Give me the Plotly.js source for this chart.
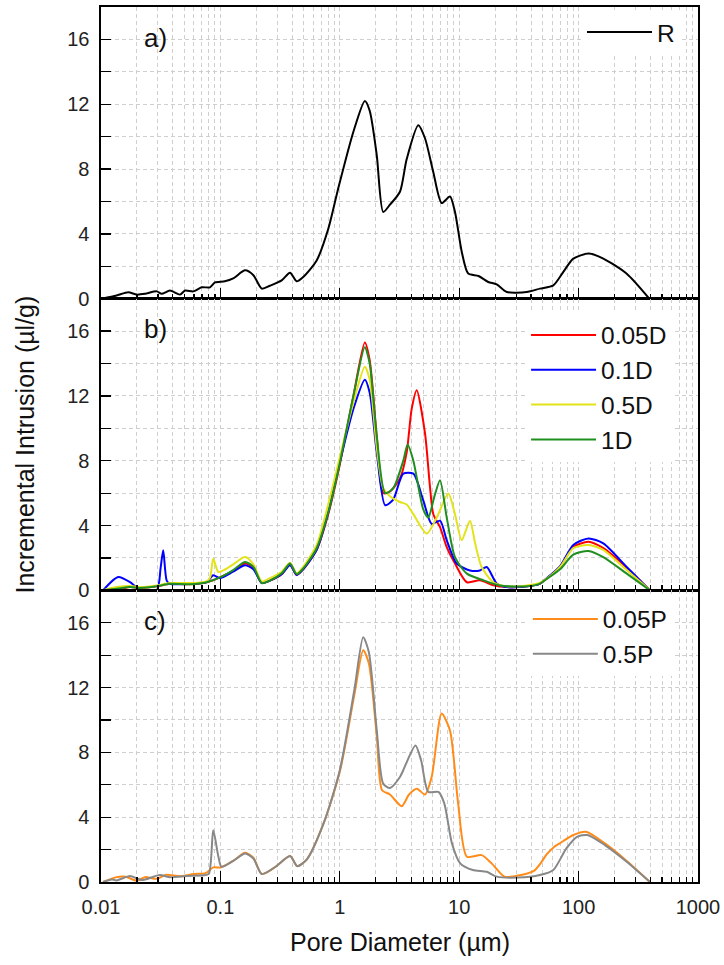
<!DOCTYPE html>
<html><head><meta charset="utf-8">
<script src="https://cdn.plot.ly/plotly-3.0.1.min.js"></script>
<style>html,body{margin:0;padding:0;background:#fff}</style>
</head><body><div id="chart" style="width:724px;height:965px"></div>
<script>
// ---- Data (pore diameter in µm, incremental intrusion in µl/g) ----
const xR = [0.0102,0.0135,0.0169,0.0199,0.0234,0.0293,0.0322,0.0378,0.0459,0.0506,0.0593,0.0697,0.0818,0.090,0.109,0.128,0.161,0.189,0.222,0.260,0.326,0.383,0.435,0.494,0.64,0.80,0.97,1.30,1.62,1.78,2.04,2.31,2.63,3.19,3.63,4.54,5.17,6.07,7.13,8.37,9.22,10.5,11.9,14.5,17.5,20.6,25,36.7,47.5,61.4,74.5,90.3,121,161,253,391];
const yR = [0,0.2,0.4,0.25,0.3,0.45,0.3,0.5,0.25,0.5,0.45,0.7,0.7,1.0,1.07,1.25,1.75,1.45,0.62,0.8,1.13,1.6,1.07,1.34,2.36,4.3,6.8,10.3,12.2,11.6,8.85,5.35,5.8,6.6,8.6,10.7,9.9,7.8,5.9,6.3,5.35,2.9,1.55,1.4,1.03,0.88,0.41,0.41,0.62,0.82,1.65,2.47,2.78,2.47,1.54,0];

const x005D = [0.0104,0.014,0.0175,0.0212,0.0293,0.0378,0.0556,0.0768,0.0991,0.128,0.161,0.189,0.222,0.26,0.326,0.383,0.435,0.494,0.64,0.80,0.97,1.3,1.62,1.78,2.04,2.31,2.63,3.19,3.63,4.0,4.41,5.17,5.69,6.07,6.91,7.86,9.22,11.6,14.9,19.3,25,37,47,54,70,90.3,121,161,253,396];
const y005D = [0,0.05,0.2,0.15,0.25,0.4,0.37,0.5,0.8,1.2,1.65,1.4,0.45,0.6,1.0,1.6,0.95,1.3,2.5,4.7,7.3,12,15.3,14.2,9.5,6.0,6.1,6.9,8.5,11.2,12.35,9.7,6.4,4.7,3.9,2.67,1.65,0.5,0.62,0.31,0.2,0.25,0.4,0.72,1.44,2.67,3.0,2.6,1.4,0];

const x01D = [0.0104,0.0125,0.014,0.0175,0.0212,0.0293,0.0316,0.0332,0.0355,0.0378,0.0556,0.0768,0.0871,0.0991,0.128,0.161,0.189,0.222,0.26,0.326,0.383,0.435,0.494,0.64,0.80,0.97,1.3,1.62,1.78,2.04,2.4,2.8,3.4,4.13,5.0,5.88,6.91,7.86,9.52,12.3,14.9,17,20.6,25,37,47,54,70,90.3,121,161,253,396];
const y01D = [0,0.6,0.82,0.5,0.05,0.0,1.4,2.47,0.6,0.4,0.4,0.5,0.93,0.75,1.15,1.55,1.3,0.45,0.6,1.0,1.55,0.95,1.3,2.5,4.8,7.5,11.2,13.0,12.2,8.5,5.25,5.6,7.2,7.2,5.55,4.1,4.3,3.1,1.65,1.23,1.23,1.44,0.42,0.2,0.25,0.4,0.75,1.5,2.8,3.2,2.9,1.44,0];

const x05D = [0.0104,0.0135,0.0175,0.0212,0.0293,0.0378,0.0556,0.0768,0.082,0.0871,0.0962,0.11,0.128,0.161,0.189,0.222,0.26,0.326,0.383,0.435,0.494,0.64,0.80,0.97,1.3,1.62,1.78,2.04,2.31,2.63,3.19,3.63,4.13,5.35,6.49,8.1,9.22,10.5,12.3,13.6,15.4,19.3,25,37,47,54,70,90.3,121,161,253,396];
const y05D = [0,0.2,0.27,0.2,0.3,0.45,0.45,0.55,0.8,1.95,1.13,1.3,1.6,2.05,1.6,0.55,0.75,1.15,1.7,1.05,1.45,2.8,5.3,7.8,11.6,13.8,13.0,8.8,6.3,5.8,5.45,5.3,4.7,3.5,4.5,5.97,4.7,3.1,4.3,2.9,1.44,0.5,0.25,0.3,0.45,0.72,1.44,2.6,2.8,2.5,1.25,0];

const x1D = [0.0104,0.0135,0.0175,0.0212,0.0293,0.0378,0.0556,0.0768,0.0991,0.128,0.161,0.189,0.222,0.26,0.326,0.383,0.435,0.494,0.64,0.80,0.97,1.3,1.62,1.78,2.04,2.4,2.8,3.4,3.7,4.13,5.0,5.51,6.2,6.91,7.86,9.22,11.6,15.9,22,37,47,54,70,90.3,121,161,253,396];
const y1D = [0,0.1,0.2,0.15,0.25,0.4,0.37,0.5,0.8,1.25,1.75,1.45,0.45,0.6,1.05,1.65,1.0,1.35,2.6,4.8,7.4,12,15.0,14.0,9.5,6.0,6.3,8.0,9.0,8.0,5.0,4.5,5.8,6.8,4.5,2.05,1.03,0.62,0.3,0.25,0.4,0.7,1.3,2.2,2.43,2.05,1.03,0];

const x005P = [0.0104,0.0135,0.016,0.0199,0.0234,0.0293,0.035,0.046,0.06,0.075,0.0871,0.1,0.128,0.161,0.189,0.222,0.29,0.383,0.44,0.53,0.73,1.0,1.32,1.57,1.75,2.04,2.26,2.63,3.3,3.8,4.41,5.17,5.88,7.13,8.37,9.8,11.6,15.4,18.7,24,33,42.5,48,54,62,70,90.3,115,166,253,396];
const y005P = [0,0.3,0.33,0.08,0.3,0.2,0.45,0.35,0.5,0.55,0.9,0.9,1.3,1.8,1.5,0.49,0.94,1.6,0.98,1.4,3.6,6.8,11.5,14.3,13.5,9.0,5.66,5.4,4.68,5.4,5.76,5.4,6.48,10.4,9.35,4.84,1.56,1.66,1.15,0.33,0.43,0.7,1.15,1.7,2.15,2.4,2.9,3.1,2.38,1.3,0];

const x05P = [0.0104,0.0123,0.0135,0.0175,0.022,0.031,0.038,0.052,0.072,0.080,0.0871,0.0962,0.102,0.128,0.161,0.189,0.222,0.29,0.383,0.44,0.53,0.73,1.0,1.32,1.57,1.75,2.04,2.31,2.63,3.19,3.4,4.3,4.8,5.51,6.7,7.5,8.7,10.2,13,17,20.6,31,47.5,61.4,79,97,118,166,253,396];
const y05P = [0,0.16,0.1,0.37,0.12,0.43,0.29,0.37,0.41,0.5,3.2,1.56,0.94,1.3,1.76,1.45,0.49,0.94,1.6,0.98,1.4,3.6,6.9,11.8,15.1,14.2,9.35,6.07,5.8,6.48,6.9,8.43,7.5,5.56,5.56,4.85,2.38,1.15,0.74,0.63,0.33,0.27,0.43,0.74,2.07,2.79,2.9,2.28,1.25,0];

const xTickVals = [0.01,0.1,1,10,100,1000];
const xTickText = ['0.01','0.1','1','10','100','1000'];
const yTickVals = [0,4,8,12,16];
const yTickText = ['0','4','8','12','16'];
const panelLabels = ['a)','b)','c)'];

// ---- Styling ----
const FONT = 'Arial, "Liberation Sans", sans-serif';
const GRID = '#cfcfcf';
const DASH = '4px,3px';
const minorX = [];
for (let e = -2; e < 3; e++) for (let m = 2; m <= 9; m++) minorX.push(m * Math.pow(10, e));

function line(x, y, name, color, xa, ya, leg) {
  return {x: x, y: y, name: name, type: 'scatter', mode: 'lines',
          line: {color: color, width: 2, shape: 'spline', smoothing: 0.7},
          xaxis: xa, yaxis: ya, legend: leg, hoverinfo: 'skip'};
}

const data = [
  line(xR, yR, 'R', '#000000', 'x', 'y', 'legend'),
  line(x005D, y005D, '0.05D', '#ff0000', 'x2', 'y2', 'legend2'),
  line(x01D, y01D, '0.1D', '#0000ff', 'x2', 'y2', 'legend2'),
  line(x05D, y05D, '0.5D', '#e3e31a', 'x2', 'y2', 'legend2'),
  line(x1D, y1D, '1D', '#1f8f1f', 'x2', 'y2', 'legend2'),
  line(x005P, y005P, '0.05P', '#ff8c1a', 'x3', 'y3', 'legend3'),
  line(x05P, y05P, '0.5P', '#888888', 'x3', 'y3', 'legend3')
];

function xAxis(anchor, labels) {
  return {type: 'log', range: [-2, 3], anchor: anchor, domain: [0, 1],
    tickmode: 'array', tickvals: xTickVals, ticktext: xTickText,
    showticklabels: labels, ticks: 'inside', ticklen: 11, tickwidth: 1.3, tickcolor: '#000',
    tickfont: {family: FONT, size: 20, color: '#222'}, ticklabelstandoff: 6,
    showgrid: true, gridcolor: GRID, griddash: DASH, gridwidth: 1,
    minor: {tickmode: 'array', tickvals: minorX, ticks: 'inside', ticklen: 5, tickwidth: 1.2, tickcolor: '#000',
            showgrid: true, gridcolor: GRID, griddash: DASH, gridwidth: 1},
    showline: true, linecolor: '#000', linewidth: 1.6, mirror: true, zeroline: false};
}
function yAxis(anchor, dom) {
  return {range: [0, 18], anchor: anchor, domain: dom,
    tickmode: 'array', tickvals: yTickVals, ticktext: yTickText,
    ticks: 'inside', ticklen: 10, tickwidth: 1.3, tickcolor: '#000',
    tickfont: {family: FONT, size: 20, color: '#222'}, ticklabelstandoff: 6,
    showgrid: true, gridcolor: GRID, griddash: DASH, gridwidth: 1,
    minor: {tickmode: 'array', tickvals: [2,6,10,14], ticks: 'inside', ticklen: 10, tickwidth: 1.2, tickcolor: '#000',
            showgrid: true, gridcolor: GRID, griddash: DASH, gridwidth: 1},
    showline: true, linecolor: '#000', linewidth: 1.6, mirror: true, zeroline: false};
}
function legendBox(x, y) {
  return {x: x, xanchor: 'left', y: y, yanchor: 'top', bgcolor: '#ffffff',
          font: {family: FONT, size: 24.5, color: '#111'}, itemwidth: 65,
          tracegroupgap: 0, borderwidth: 0};
}

const annotations = panelLabels.map((t, i) => ({
  text: t, xref: (i === 0 ? 'x' : 'x' + (i + 1)) + ' domain', yref: (i === 0 ? 'y' : 'y' + (i + 1)) + ' domain',
  x: 0.068, y: 0.895, xanchor: 'left', yanchor: 'middle', showarrow: false,
  font: {family: FONT, size: 26, color: '#111'}
}));
annotations.push({text: 'Incremental Intrusion (µl/g)', xref: 'paper', yref: 'paper',
  x: (24 - 101) / 597, y: 0.5, xanchor: 'center', yanchor: 'middle', textangle: -90, showarrow: false,
  font: {family: FONT, size: 25, color: '#111'}});
annotations.push({text: 'Pore Diameter (µm)', xref: 'paper', yref: 'paper',
  x: 0.5, y: -(942 - 882) / 875, xanchor: 'center', yanchor: 'middle', showarrow: false,
  font: {family: FONT, size: 25, color: '#111'}});

const layout = {
  width: 724, height: 965, margin: {l: 101, r: 26, t: 7, b: 83},
  paper_bgcolor: '#fff', plot_bgcolor: '#fff', showlegend: true,
  xaxis: xAxis('y', false), xaxis2: xAxis('y2', false), xaxis3: xAxis('y3', true),
  yaxis: yAxis('x', [2/3, 1]), yaxis2: yAxis('x2', [1/3, 2/3]), yaxis3: yAxis('x3', [0, 1/3]),
  legend: legendBox(0.8057, 0.997), legend2: legendBox(0.712, 0.6509), legend3: legendBox(0.715, 0.3263),
  annotations: annotations
};

Plotly.newPlot('chart', data, layout, {displayModeBar: false, staticPlot: true});
</script></body></html>
